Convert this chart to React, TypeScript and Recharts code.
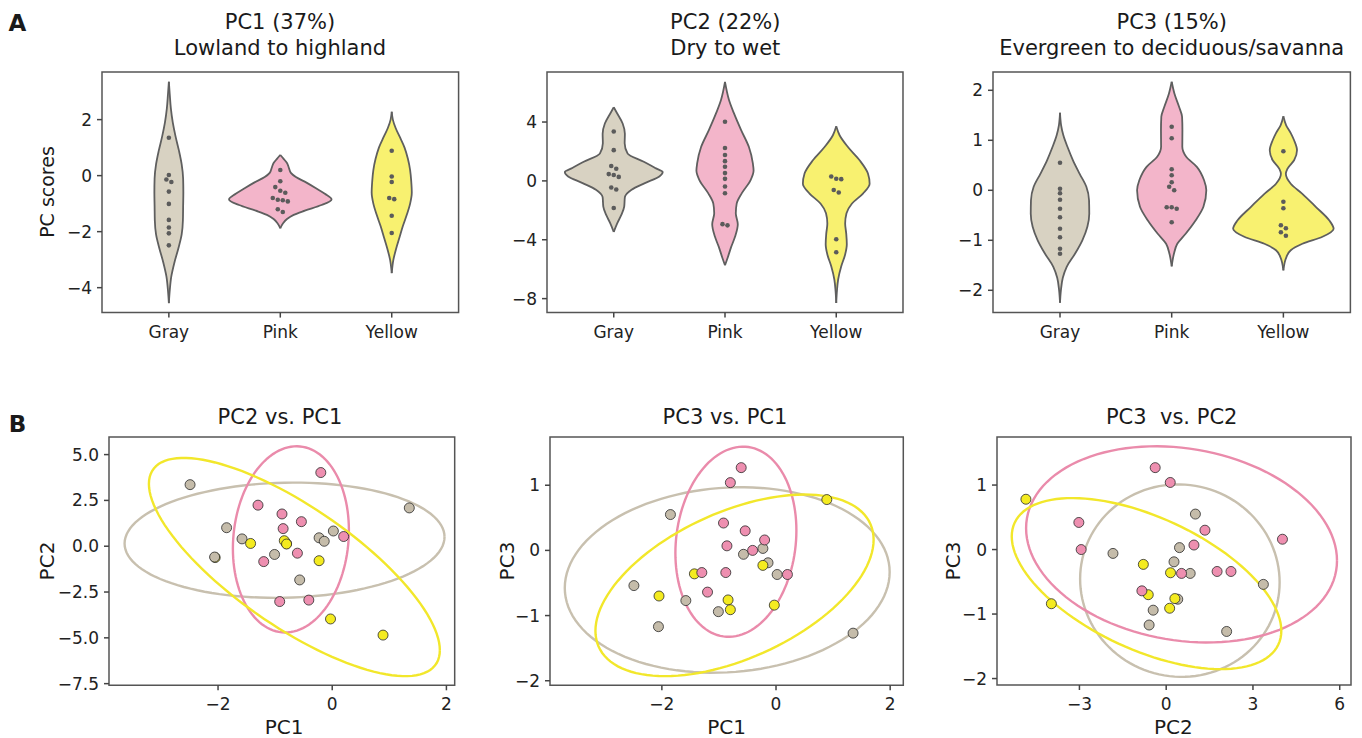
import React from 'react';
import { ComposedChart, XAxis, YAxis, Area, Scatter, Line, ReferenceArea } from 'recharts';

const FONT = "'DejaVu Sans', 'Liberation Sans', sans-serif";
const groups = ['Gray', 'Pink', 'Yellow'];

// ---- PC scores of each sample ----
const grayPC1 = [-2.49, -1.85, -1.58, -2.06, -1.01, -0.57, -0.23, -0.14, 0.02, 1.35];
const grayPC2 = [3.36, 1.01, 0.40, -0.59, -0.45, -1.84, 0.46, 0.27, 0.83, 2.09];
const grayPC3 = [-0.54, 0.55, -0.77, -1.17, -0.94, -0.06, 0.03, -0.19, -0.37, -1.27];
const pinkPC1 = [-0.61, -0.80, -0.92, -0.54, -0.20, -0.41, -0.86, -0.88, -1.30, 0.20, -1.20];
const pinkPC2 = [-0.38, 0.14, -3.02, 1.34, 4.02, -2.94, 0.96, 1.76, 2.24, 0.53, -0.84];
const pinkPC3 = [1.27, 1.04, 0.42, 0.30, 0.16, 0.00, 0.07, -0.34, -0.34, -0.37, -0.64];
const yellowPC1 = [-1.43, -2.05, -0.84, -0.80, -0.23, -0.03, 0.89];
const yellowPC2 = [0.15, -0.62, 0.30, 0.12, -0.79, -3.97, -4.85];
const yellowPC3 = [-0.36, -0.70, -0.76, -0.91, -0.23, -0.84, 0.78];

// order in which the markers are stacked in the scatter panels
const drawOrder = ['P2', 'G3', 'G7', 'G8', 'Y1', 'Y2', 'G1', 'G2', 'G5', 'G6', 'G9', 'G10', 'G4',
  'P1', 'P3', 'P4', 'P5', 'P6', 'P7', 'P8', 'P9', 'P10', 'P11', 'Y3', 'Y4', 'Y5', 'Y6', 'Y7'];

// ---- violin outlines: [score, half width in category units] ----
const violinPC1Gray = [[3.35, 0], [2.9, 0.008], [2.4, 0.018], [1.9, 0.035], [1.4, 0.06], [0.9, 0.09], [0.4, 0.115], [-0.1, 0.128], [-0.6, 0.13], [-1.1, 0.128], [-1.6, 0.126], [-2.1, 0.115], [-2.6, 0.085], [-3.1, 0.05], [-3.6, 0.022], [-4.1, 0.008], [-4.55, 0]];
const violinPC1Pink = [[0.74, 0], [0.6, 0.03], [0.45, 0.06], [0.3, 0.075], [0.1, 0.095], [-0.05, 0.14], [-0.25, 0.235], [-0.45, 0.32], [-0.65, 0.4], [-0.85, 0.46], [-1.05, 0.37], [-1.25, 0.22], [-1.4, 0.12], [-1.55, 0.06], [-1.7, 0.025], [-1.88, 0]];
const violinPC1Yellow = [[2.28, 0], [2.0, 0.01], [1.7, 0.035], [1.4, 0.07], [1.0, 0.115], [0.6, 0.145], [0.2, 0.165], [-0.2, 0.175], [-0.6, 0.18], [-1.0, 0.165], [-1.4, 0.135], [-1.8, 0.1], [-2.2, 0.07], [-2.6, 0.04], [-3.0, 0.015], [-3.48, 0]];
const violinPC2Gray = [[5.0, 0], [4.6, 0.03], [3.9, 0.08], [3.2, 0.1], [2.55, 0.098], [1.85, 0.125], [1.3, 0.27], [0.85, 0.38], [0.6, 0.44], [0.3, 0.41], [-0.15, 0.28], [-0.6, 0.16], [-1.1, 0.1], [-1.75, 0.094], [-2.35, 0.066], [-2.9, 0.03], [-3.47, 0]];
const violinPC2Pink = [[6.73, 0], [5.5, 0.036], [4.6, 0.08], [3.45, 0.145], [2.3, 0.215], [1.2, 0.25], [0.7, 0.257], [0.05, 0.23], [-0.85, 0.15], [-1.55, 0.105], [-2.2, 0.097], [-2.95, 0.115], [-3.8, 0.09], [-4.5, 0.055], [-5.15, 0.027], [-5.73, 0]];
const violinPC2Yellow = [[3.71, 0], [3.1, 0.03], [2.3, 0.105], [1.4, 0.21], [0.5, 0.285], [-0.2, 0.3], [-0.86, 0.24], [-1.55, 0.14], [-2.2, 0.092], [-2.9, 0.08], [-3.6, 0.09], [-4.3, 0.095], [-5.0, 0.08], [-5.8, 0.045], [-6.7, 0.017], [-7.5, 0.006], [-8.3, 0]];
const violinPC3Gray = [[1.55, 0], [1.3, 0.01], [1.1, 0.03], [0.85, 0.07], [0.6, 0.116], [0.33, 0.176], [0.07, 0.236], [-0.2, 0.26], [-0.47, 0.262], [-0.73, 0.245], [-1.0, 0.2], [-1.27, 0.134], [-1.53, 0.06], [-1.75, 0.025], [-2.0, 0.008], [-2.25, 0]];
const violinPC3Pink = [[2.17, 0], [1.93, 0.025], [1.67, 0.066], [1.47, 0.093], [1.2, 0.096], [0.87, 0.095], [0.67, 0.13], [0.47, 0.225], [0.2, 0.29], [0.0, 0.31], [-0.33, 0.284], [-0.6, 0.215], [-0.87, 0.125], [-1.07, 0.05], [-1.27, 0.02], [-1.52, 0]];
const violinPC3Yellow = [[1.48, 0], [1.3, 0.025], [1.15, 0.065], [1.0, 0.096], [0.8, 0.122], [0.6, 0.096], [0.43, 0.036], [0.33, 0.022], [0.13, 0.066], [-0.07, 0.17], [-0.33, 0.29], [-0.6, 0.41], [-0.77, 0.45], [-0.93, 0.35], [-1.07, 0.17], [-1.2, 0.066], [-1.33, 0.028], [-1.6, 0]];

// ---- ellipses: [centre x, centre y, x half-extent, y half-extent, y offset of rightmost point] ----
const ellPC2vsPC1 = [
  [-0.835, 0.327, 2.802, 3.145, 0.18],
  [-0.724, 0.373, 1.016, 5.08, 0.5],
  [-0.663, -1.136, 2.548, 5.955, -4.536],
];
const ellPC3vsPC1 = [
  [-0.855, -0.454, 2.846, 1.423, 0.122],
  [-0.703, 0.133, 1.06, 1.459, 0.173],
  [-0.727, -0.536, 2.437, 1.393, 0.7],
];
const ellPC3vsPC2 = [
  [0.473, -0.482, 3.449, 1.492, -0.026],
  [0.531, 0.08, 5.375, 1.521, -0.251],
  [-0.68, -0.528, 4.66, 1.326, -0.731],
];

// ---- tick labels ----
const violinTicksPC1 = [-4, -2, 0, 2];
const violinTicksPC2 = [-8, -4, 0, 4];
const violinTicksPC3 = [-2, -1, 0, 1, 2];
const ticksPC1 = [-2, 0, 2];
const ticksPC2 = [-7.5, -5, -2.5, 0, 2.5, 5];
const ticksPC2x = [-3, 0, 3, 6];
const ticksPC3 = [-2, -1, 0, 1];

// ---- styles ----
const violinFill = ['#d8d2c2', '#f3b5ca', '#f8f170'];
const pointFill = ['#c5bcaa', '#ee8fb0', '#f4eb20'];
const ellipseStroke = ['#c8c0af', '#ea8bab', '#f2e72b'];
const tickStyle = { fontSize: 17, fill: '#222', fontFamily: FONT };
const tickLine = { stroke: '#444', strokeWidth: 1.5 };
const ML = 70, MT = 10, MR = 10, XH = 45;
const catDomain: [number, number] = [-0.6, 2.6];

const minus = (v: number) => String(v).replace('-', '\u2212');
const minus1 = (v: number) => v.toFixed(1).replace('-', '\u2212');

const allPC1 = [grayPC1, pinkPC1, yellowPC1];
const allPC2 = [grayPC2, pinkPC2, yellowPC2];
const allPC3 = [grayPC3, pinkPC3, yellowPC3];
const prefix = ['G', 'P', 'Y'];

function buildSamples() {
  const map: Record<string, any> = {};
  for (let g = 0; g < 3; g++) {
    allPC1[g].forEach((_, i) => {
      map[prefix[g] + (i + 1)] = { g, pc: [allPC1[g][i], allPC2[g][i], allPC3[g][i]] };
    });
  }
  return drawOrder.map((id) => map[id]);
}
const samples = buildSamples();

function violinRows(profile: number[][], g: number) {
  return profile
    .slice()
    .sort((a, b) => a[0] - b[0])
    .map(([v, hw]) => ({ y: v, r: [g - hw, g + hw] }));
}

function swarm(values: number[], pxPerY: number, pxPerCat: number, g: number) {
  const idx = values.map((_, i) => i).sort((a, b) => values[b] - values[a]);
  const clusters: number[][] = [];
  let cur: number[] = [];
  for (const i of idx) {
    if (cur.length && (values[cur[cur.length - 1]] - values[i]) * pxPerY >= 3.8) {
      clusters.push(cur);
      cur = [];
    }
    cur.push(i);
  }
  if (cur.length) clusters.push(cur);
  const pts: { x: number; y: number }[] = [];
  const spacing = 5 / pxPerCat;
  clusters.forEach((c) => {
    const n = c.length;
    c.forEach((i, k) => pts.push({ x: g + (k - (n - 1) / 2) * spacing, y: values[i] }));
  });
  return pts;
}

function ellipsePoints(e: number[]) {
  const [cx, cy, ex, ey, ry] = e;
  const bv = Math.sqrt(Math.max(ey * ey - ry * ry, 0));
  const pts: { x: number; y: number }[] = [];
  const N = 120;
  for (let k = 0; k <= N; k++) {
    const t = (2 * Math.PI * k) / N;
    pts.push({ x: cx + ex * Math.cos(t), y: cy + ry * Math.cos(t) + bv * Math.sin(t) });
  }
  return pts;
}

const swarmDot = (p: any) => <circle cx={p.cx} cy={p.cy} r={2.3} fill="#5b5b5b" />;

function ViolinPanel({ frame, yDomain, yTicks, profiles, values }: any) {
  const [l, t, r, b] = frame;
  const W = r - l + ML + MR;
  const H = b - t + MT + XH;
  const pxPerY = (b - t) / (yDomain[1] - yDomain[0]);
  const pxPerCat = (r - l) / (catDomain[1] - catDomain[0]);
  return (
    <div style={{ position: 'absolute', left: l - ML, top: t - MT }}>
      <ComposedChart layout="vertical" width={W} height={H} margin={{ top: MT, right: MR, bottom: 0, left: 0 }}>
        <XAxis type="number" dataKey="x" domain={catDomain} ticks={[0, 1, 2]} interval={0} allowDataOverflow
          tickFormatter={(v: number) => groups[v]} axisLine={false} tickLine={tickLine} tickSize={5} tickMargin={8}
          height={XH} tick={tickStyle} />
        <YAxis type="number" dataKey="y" domain={yDomain} ticks={yTicks} interval={0} allowDataOverflow reversed
          tickFormatter={minus} axisLine={false} tickLine={tickLine} tickSize={5} tickMargin={5} width={ML} tick={tickStyle} />
        {profiles.map((p: number[][], g: number) => (
          <Area key={'v' + g} data={violinRows(p, g)} dataKey="r" type="monotone" stroke="#5f5f5f" strokeWidth={1.8}
            fill={violinFill[g]} fillOpacity={1} dot={false} activeDot={false} isAnimationActive={false} />
        ))}
        {values.map((v: number[], g: number) => (
          <Scatter key={'s' + g} data={swarm(v, pxPerY, pxPerCat, g)} shape={swarmDot} isAnimationActive={false} />
        ))}
        <ReferenceArea x1={catDomain[0]} x2={catDomain[1]} y1={yDomain[0]} y2={yDomain[1]} fill="none" fillOpacity={0}
          stroke="#555" strokeWidth={1.5} ifOverflow="visible" />
      </ComposedChart>
    </div>
  );
}

function ScatterPanel({ frame, xDomain, yDomain, xTicks, yTicks, xi, yi, ellipses, yFmt }: any) {
  const [l, t, r, b] = frame;
  const W = r - l + ML + MR;
  const H = b - t + MT + XH;
  const pts = samples.map((s) => ({ x: s.pc[xi], y: s.pc[yi], g: s.g }));
  const dot = (p: any) => (
    <circle cx={p.cx} cy={p.cy} r={5} fill={pointFill[p.payload.g]} stroke="#2a2a2a" strokeWidth={0.8} />
  );
  return (
    <div style={{ position: 'absolute', left: l - ML, top: t - MT }}>
      <ComposedChart width={W} height={H} margin={{ top: MT, right: MR, bottom: 0, left: 0 }}>
        <XAxis type="number" dataKey="x" domain={xDomain} ticks={xTicks} interval={0} allowDataOverflow
          tickFormatter={minus} axisLine={false} tickLine={tickLine} tickSize={5} tickMargin={8} height={XH} tick={tickStyle} />
        <YAxis type="number" dataKey="y" domain={yDomain} ticks={yTicks} interval={0} allowDataOverflow
          tickFormatter={yFmt || minus} axisLine={false} tickLine={tickLine} tickSize={5} tickMargin={5} width={ML} tick={tickStyle} />
        {ellipses.map((e: number[], g: number) => (
          <Line key={'e' + g} data={ellipsePoints(e)} dataKey="y" type="linear" stroke={ellipseStroke[g]} strokeWidth={2.4}
            dot={false} activeDot={false} isAnimationActive={false} />
        ))}
        <Scatter data={pts} shape={dot} isAnimationActive={false} />
        <ReferenceArea x1={xDomain[0]} x2={xDomain[1]} y1={yDomain[0]} y2={yDomain[1]} fill="none" fillOpacity={0}
          stroke="#555" strokeWidth={1.5} ifOverflow="visible" />
      </ComposedChart>
    </div>
  );
}

function Txt({ x, y, size, children, bold, rotate }: any) {
  return (
    <div
      style={{
        position: 'absolute', left: x, top: y, fontSize: size, lineHeight: 1, whiteSpace: 'nowrap',
        fontFamily: FONT, color: '#1a1a1a', fontWeight: bold ? 'bold' : 'normal',
        transform: 'translate(-50%, -50%)' + (rotate ? ' rotate(-90deg)' : ''),
      }}
    >
      {children}
    </div>
  );
}

export default function App() {
  return (
    <div style={{ position: 'absolute', left: 0, top: 0, width: 1362, height: 738, background: '#fff', fontFamily: FONT }}>
      <ViolinPanel frame={[101.7, 71.7, 458.3, 312.3]} yDomain={[-4.89, 3.7]} yTicks={violinTicksPC1}
        profiles={[violinPC1Gray, violinPC1Pink, violinPC1Yellow]} values={allPC1} />
      <ViolinPanel frame={[547.3, 71.7, 903.3, 312.3]} yDomain={[-8.95, 7.4]} yTicks={violinTicksPC2}
        profiles={[violinPC2Gray, violinPC2Pink, violinPC2Yellow]} values={allPC2} />
      <ViolinPanel frame={[993.3, 71.7, 1350.7, 312.3]} yDomain={[-2.446, 2.366]} yTicks={violinTicksPC3}
        profiles={[violinPC3Gray, violinPC3Pink, violinPC3Yellow]} values={allPC3} />

      <ScatterPanel frame={[109.3, 436.7, 455, 685]} xDomain={[-3.91, 2.145]} yDomain={[-7.59, 5.96]}
        xTicks={ticksPC1} yTicks={ticksPC2} xi={0} yi={1} ellipses={ellPC2vsPC1} yFmt={minus1} />
      <ScatterPanel frame={[550, 436.7, 903.3, 685]} xDomain={[-3.96, 2.23]} yDomain={[-2.07, 1.74]}
        xTicks={ticksPC1} yTicks={ticksPC3} xi={0} yi={2} ellipses={ellPC3vsPC1} />
      <ScatterPanel frame={[996.7, 437, 1350.7, 685]} xDomain={[-5.85, 6.39]} yDomain={[-2.1, 1.745]}
        xTicks={ticksPC2x} yTicks={ticksPC3} xi={1} yi={2} ellipses={ellPC3vsPC2} />

      <Txt x={17.5} y={23} size={23} bold>A</Txt>
      <Txt x={17.5} y={423.5} size={23} bold>B</Txt>

      <Txt x={280} y={22} size={21}>PC1 (37%)</Txt>
      <Txt x={280} y={48} size={21}>Lowland to highland</Txt>
      <Txt x={725.3} y={22} size={21}>PC2 (22%)</Txt>
      <Txt x={725.3} y={48} size={21}>Dry to wet</Txt>
      <Txt x={1171.7} y={22} size={21}>PC3 (15%)</Txt>
      <Txt x={1171.7} y={48} size={21}>Evergreen to deciduous/savanna</Txt>

      <Txt x={280} y={416.7} size={21}>PC2 vs. PC1</Txt>
      <Txt x={725} y={416.7} size={21}>PC3 vs. PC1</Txt>
      <Txt x={1171.7} y={416.7} size={21}>{'PC3\u00a0 vs. PC2'}</Txt>

      <Txt x={47} y={192} size={19} rotate>PC scores</Txt>
      <Txt x={47} y={561} size={20} rotate>PC2</Txt>
      <Txt x={507} y={561} size={20} rotate>PC3</Txt>
      <Txt x={953} y={561} size={20} rotate>PC3</Txt>
      <Txt x={284} y={727} size={20}>PC1</Txt>
      <Txt x={726.7} y={727} size={20}>PC1</Txt>
      <Txt x={1173.3} y={727} size={20}>PC2</Txt>
    </div>
  );
}
